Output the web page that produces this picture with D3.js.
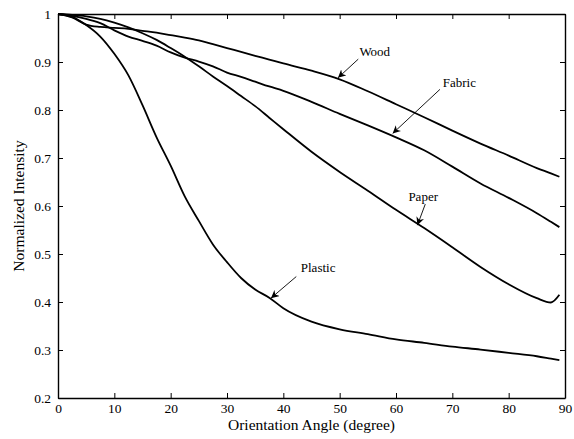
<!DOCTYPE html>
<html>
<head>
<meta charset="utf-8">
<script src="https://cdn.jsdelivr.net/npm/d3@7"></script>
<style>
  body { margin: 0; background: #fff; }
  #chart { width: 574px; height: 439px; }
  text { font-family: 'Liberation Serif', 'Times New Roman', serif; fill: #000; }
</style>
</head>
<body>
<div id="chart"></div>
<script>
// Angle grid (degree) shared by all four materials
const angles = [0, 2.5, 5, 7.5, 10, 12.5, 15, 17.5, 20, 22.5, 25, 27.5, 30, 32.5, 35, 37.5, 40, 45, 50, 55, 60, 65, 70, 75, 80, 85, 87.5, 89];

const wood = [1, 0.993, 0.978, 0.973, 0.971, 0.969, 0.965, 0.961, 0.956, 0.951, 0.945, 0.937, 0.929, 0.921, 0.913, 0.905, 0.897, 0.882, 0.864, 0.839, 0.812, 0.785, 0.757, 0.73, 0.705, 0.679, 0.668, 0.661];
const fabric = [1, 0.996, 0.99, 0.981, 0.966, 0.953, 0.944, 0.934, 0.92, 0.909, 0.901, 0.891, 0.878, 0.869, 0.859, 0.849, 0.84, 0.817, 0.792, 0.768, 0.743, 0.716, 0.682, 0.647, 0.617, 0.585, 0.567, 0.556];
const paper = [1, 0.998, 0.995, 0.99, 0.982, 0.972, 0.96, 0.946, 0.929, 0.911, 0.891, 0.87, 0.85, 0.829, 0.808, 0.784, 0.76, 0.713, 0.671, 0.632, 0.592, 0.554, 0.514, 0.473, 0.437, 0.408, 0.399, 0.415];
const plastic = [1, 0.994, 0.977, 0.953, 0.917, 0.872, 0.81, 0.743, 0.684, 0.62, 0.569, 0.52, 0.483, 0.45, 0.426, 0.409, 0.387, 0.359, 0.343, 0.333, 0.322, 0.315, 0.307, 0.301, 0.294, 0.287, 0.282, 0.279];

// Annotations: label, text position, arrow tail and arrow tip (data units)
const notes = [
  { label: 'Wood', tx: 53.5, ty: 0.912, x1: 53.3, y1: 0.906, x2: 49.7, y2: 0.867 },
  { label: 'Fabric', tx: 68.3, ty: 0.848, x1: 67.8, y1: 0.843, x2: 59.4, y2: 0.751 },
  { label: 'Paper', tx: 62.2, ty: 0.611, x1: 65.2, y1: 0.604, x2: 63.8, y2: 0.56 },
  { label: 'Plastic', tx: 43.1, ty: 0.462, x1: 42.3, y1: 0.453, x2: 37.8, y2: 0.408 },
];

const xTicks = [0, 10, 20, 30, 40, 50, 60, 70, 80, 90];
const yTicks = [0.2, 0.3, 0.4, 0.5, 0.6, 0.7, 0.8, 0.9, 1];

const margin = { top: 14, right: 9, bottom: 41, left: 58 },
  width = 574 - margin.left - margin.right,
  height = 439 - margin.top - margin.bottom;

const svg = d3
  .select('#chart')
  .append('svg')
  .attr('width', 574)
  .attr('height', 439)
  .append('g')
  .attr('transform', 'translate(' + margin.left + ',' + margin.top + ')');

const x = d3.scaleLinear().domain([0, 90]).range([0, width]);
const y = d3.scaleLinear().domain([0.2, 1]).range([height, 0]);

const fmt = (d) => (d === 1 ? '1' : d3.format('.1f')(d));

// Axes, ticks pointing inwards like matlab
const axisB = svg
  .append('g')
  .attr('transform', `translate(0,${height})`)
  .call(d3.axisBottom(x).tickValues(xTicks).tickSize(-5).tickPadding(5).tickSizeOuter(0));
const axisL = svg
  .append('g')
  .call(d3.axisLeft(y).tickValues(yTicks).tickFormat(fmt).tickSize(-5).tickPadding(7).tickSizeOuter(0));
const axisT = svg
  .append('g')
  .call(d3.axisTop(x).tickValues(xTicks).tickSize(-5).tickFormat('').tickSizeOuter(0));
const axisR = svg
  .append('g')
  .attr('transform', `translate(${width},0)`)
  .call(d3.axisRight(y).tickValues(yTicks).tickSize(-5).tickFormat('').tickSizeOuter(0));

[axisB, axisL, axisT, axisR].forEach((g) => {
  g.select('.domain').attr('stroke', '#000').attr('stroke-width', 1.4);
  g.selectAll('.tick line').attr('stroke', '#000').attr('stroke-width', 1);
  g.selectAll('.tick text').style('font-size', '13.5px').style('font-family', "'Liberation Serif', serif");
});

// Curves
const line = d3
  .line()
  .x((d, i) => x(angles[i]))
  .y((d) => y(d))
  .curve(d3.curveMonotoneX);

[wood, fabric, paper, plastic].forEach((s) => {
  svg
    .append('path')
    .datum(s)
    .attr('fill', 'none')
    .attr('stroke', '#000')
    .attr('stroke-width', 1.8)
    .attr('stroke-linejoin', 'round')
    .attr('d', line);
});

// Arrow head marker
svg
  .append('defs')
  .append('marker')
  .attr('id', 'head')
  .attr('viewBox', '0 0 10 10')
  .attr('refX', 10)
  .attr('refY', 5)
  .attr('markerWidth', 8)
  .attr('markerHeight', 8)
  .attr('markerUnits', 'userSpaceOnUse')
  .attr('orient', 'auto')
  .append('path')
  .attr('d', 'M0,0 L10,5 L0,10 L3,5 Z')
  .attr('fill', '#000');

// Annotations
notes.forEach((n) => {
  svg
    .append('line')
    .attr('x1', x(n.x1))
    .attr('y1', y(n.y1))
    .attr('x2', x(n.x2))
    .attr('y2', y(n.y2))
    .attr('stroke', '#000')
    .attr('stroke-width', 0.9)
    .attr('marker-end', 'url(#head)');
  svg
    .append('text')
    .attr('x', x(n.tx))
    .attr('y', y(n.ty))
    .style('font-size', '13px')
    .text(n.label);
});

// Axis labels
svg
  .append('text')
  .attr('x', width / 2)
  .attr('y', height + 32)
  .attr('text-anchor', 'middle')
  .style('font-size', '15.5px')
  .text('Orientation Angle (degree)');

svg
  .append('text')
  .attr('transform', 'rotate(-90)')
  .attr('x', -height / 2)
  .attr('y', -34)
  .attr('text-anchor', 'middle')
  .style('font-size', '15.5px')
  .text('Normalized Intensity');
</script>
</body>
</html>
